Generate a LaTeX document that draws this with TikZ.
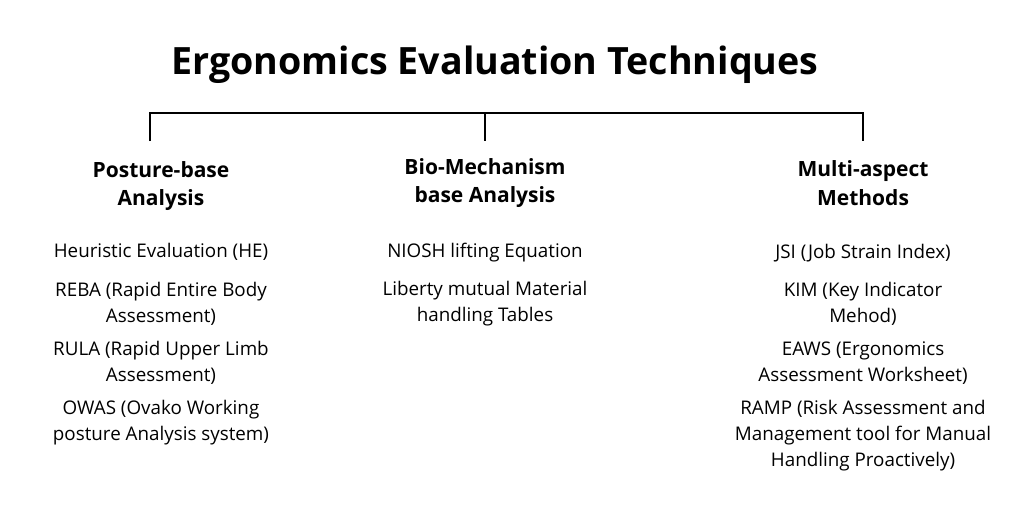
\documentclass[tikz,border=0pt]{standalone}
\usepackage{fontspec}
\setmainfont{Open Sans}
\begin{document}
\begin{tikzpicture}[x=1pt,y=-1pt,
    title/.style={font=\fontsize{37.6}{44}\selectfont\bfseries},
    head/.style={font=\fontsize{21}{28.5}\selectfont\bfseries, align=center},
    item/.style={font=\fontsize{18.8}{26}\selectfont, align=center},
    bar/.style={line width=2.2pt}]
    \useasboundingbox (0,0) rectangle (1024,512);

    % Title and bracket
    \node[title] (title) at (495,65) {Ergonomics Evaluation Techniques};
    \coordinate (bl) at (150,113);
    \coordinate (bm) at (485,113);
    \coordinate (br) at (863,113);
    \coordinate (tl) at (150,141);
    \coordinate (tm) at (485,141);
    \coordinate (tr) at (863,141);
    \draw[bar] (tl) -- (bl) -- (br) -- (tr);
    \draw[bar] (bm) -- (tm);

    % Posture-base column
    \node[head] (posture) at (161,186) {Posture-base\\Analysis};
    \node[item] (he) at (161,252) {Heuristic Evaluation (HE)};
    \node[item] (reba) at (161,304) {REBA (Rapid Entire Body\\Assessment)};
    \node[item] (rula) at (161,363) {RULA (Rapid Upper Limb\\Assessment)};
    \node[item] (owas) at (161,423) {OWAS (Ovako Working\\posture Analysis system)};

    % Bio-Mechanism column
    \node[head] (biomech) at (485,183) {Bio-Mechanism\\base Analysis};
    \node[item] (niosh) at (485,253) {NIOSH lifting Equation};
    \node[item] (liberty) at (485,304) {Liberty mutual Material\\handling Tables};

    % Multi-aspect column
    \node[head] (multi) at (863,183) {Multi-aspect\\Methods};
    \node[item] (jsi) at (863,253) {JSI (Job Strain Index)};
    \node[item] (kim) at (863,304) {KIM (Key Indicator\\Mehod)};
    \node[item] (eaws) at (863,363) {EAWS (Ergonomics\\Assessment Worksheet)};
    \node[item] (ramp) at (863,436) {RAMP (Risk Assessment and\\Management tool for Manual\\Handling Proactively)};
\end{tikzpicture}
\end{document}
